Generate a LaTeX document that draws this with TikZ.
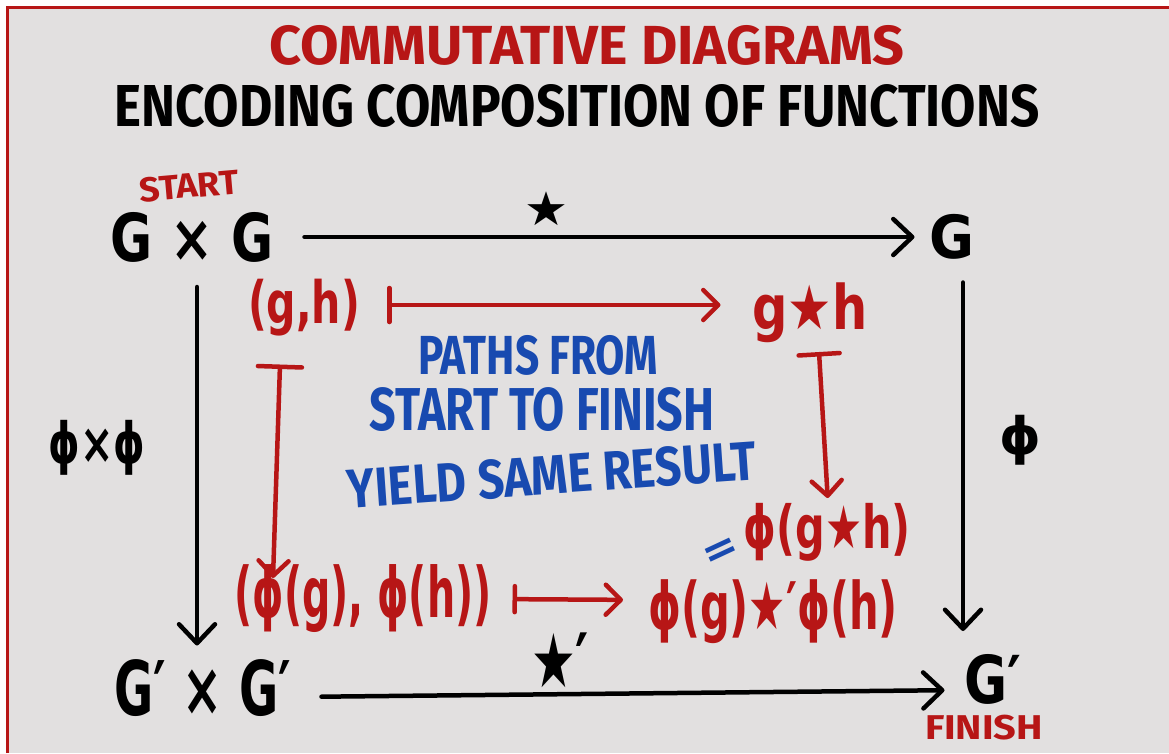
\documentclass[tikz,border=0pt]{standalone}
\usepackage{fontspec}
\usepackage{graphicx}
\setmainfont{Fira Sans}
\newfontfamily\symf{DejaVu Sans}
\usetikzlibrary{arrows.meta,calc}
\definecolor{bgc}{RGB}{226,224,224}
\definecolor{redc}{RGB}{183,22,22}
\definecolor{bluec}{RGB}{24,74,176}
\newcommand{\fitbox}[3]{\resizebox*{#1pt}{#2pt}{#3}}
\tikzset{
  txt/.style={inner sep=0pt,outer sep=0pt,font=\fontsize{40}{44}\selectfont\bfseries},
  redtxt/.style={txt,text=redc},
  bluetxt/.style={txt,text=bluec},
  blkarrow/.style={line width=4.5pt,line cap=round,black,
    -{Straight Barb[length=19pt,width=36pt,line cap=round,line join=round]}},
  redmaps/.style={line width=4.5pt,line cap=round,redc,
    {Bar[width=#1,line cap=round]}-{Straight Barb[length=15pt,width=30pt,line cap=round,line join=round]}},
  redmaps/.default=36pt
}
\begin{document}
\begin{tikzpicture}[x=1pt,y=-1pt]
\useasboundingbox (0,0) rectangle (1169,753);
\fill[white] (0,0) rectangle (1169,753);
\fill[bgc] (7,7.5) rectangle (1169,753);
\draw[redc,line width=3pt] (7,753) -- (7,7.5) -- (1169,7.5);

% titles
\node[redtxt] (title) at (587,45) {\fitbox{635}{40}{COMMUTATIVE DIAGRAMS}};
\node[txt] (sub) at (577,106) {\fitbox{925}{43}{ENCODING COMPOSITION OF FUNCTIONS}};

% black diagram
\node[redtxt,rotate=5] (start) at (189,186) {\fitbox{100}{25}{START}};
\node[txt] (GxG) at (192,237) {\fitbox{163}{50}{\symf G × G}};
\node[txt] (star) at (546,209) {\fitbox{44}{34}{\symf ★}};
\node[txt] (G) at (952,237) {\fitbox{45}{45}{\symf G}};
\node[txt] (phiphi) at (97,448) {\fitbox{97}{55}{\symf ϕ×ϕ}};
\node[txt] (phiR) at (1020,440) {\fitbox{42}{50}{\symf ϕ}};
\node[txt] (GpxGp) at (203,688) {\fitbox{177}{57}{\symf G′ × G′}};
\node[txt] (starp) at (560,660) {\fitbox{58}{55}{\symf ★′}};
\node[txt] (Gp) at (993,679) {\fitbox{57}{50}{\symf G′}};
\node[redtxt] (finish) at (984,728) {\fitbox{118}{25}{FINISH}};

% red elements
\node[redtxt] (gh) at (304,308) {\fitbox{112}{57}{\symf (g,h)}};
\node[redtxt] (gsh) at (810,313) {\fitbox{115}{60}{\symf g★h}};
\node[redtxt] (pgsh) at (827,532) {\fitbox{167}{58}{\symf ϕ(g★h)}};
\node[bluetxt,rotate=25] (eq) at (722,553) {\fitbox{36}{20}{\symf =}};
\node[redtxt] (pp) at (363,599) {\fitbox{257}{68}{\symf (ϕ(g), ϕ(h))}};
\node[redtxt] (pgpsph) at (773,612) {\fitbox{250}{64}{\symf ϕ(g)★′ϕ(h)}};

% blue text
\node[bluetxt] (b1) at (538,355) {\fitbox{240}{40}{PATHS FROM}};
\node[bluetxt] (b2) at (542,410) {\fitbox{345}{44}{START TO FINISH}};
\node[bluetxt,rotate=4] (b3) at (552,475) {\fitbox{410}{40}{YIELD SAME RESULT}};

% black arrows
\draw[blkarrow,shorten <=31pt,shorten >=15pt] (GxG.east) -- (G.west);
\draw[blkarrow,shorten <=30pt,shorten >=20pt] ([yshift=-9pt]GpxGp.east) -- ([yshift=-11pt]Gp.west);
\draw[blkarrow,shorten <=25pt,shorten >=14pt] ([xshift=5pt]GxG.south) -- ([xshift=-6pt]GpxGp.north);
\draw[blkarrow,shorten <=23pt,shorten >=23pt] ([xshift=11pt]G.south) -- ([xshift=-30pt]Gp.north);

% red arrows
\draw[redmaps=34pt,shorten <=27pt,shorten >=32pt] ([yshift=3pt]gh.east) -- ([yshift=8pt]gsh.west);
\draw[redmaps=26pt,shorten <=21pt,shorten >=25pt] (pp.east) -- ([yshift=12pt]pgpsph.west);
\draw[redmaps=44pt] ([xshift=-24pt,yshift=-28pt]gh.south) -- ([xshift=-90pt,yshift=-13pt]pp.north);
\draw[redmaps=41pt,shorten >=5pt] ([xshift=9pt,yshift=-9pt]gsh.south) -- ([xshift=1pt]pgsh.north);
\end{tikzpicture}
\end{document}
